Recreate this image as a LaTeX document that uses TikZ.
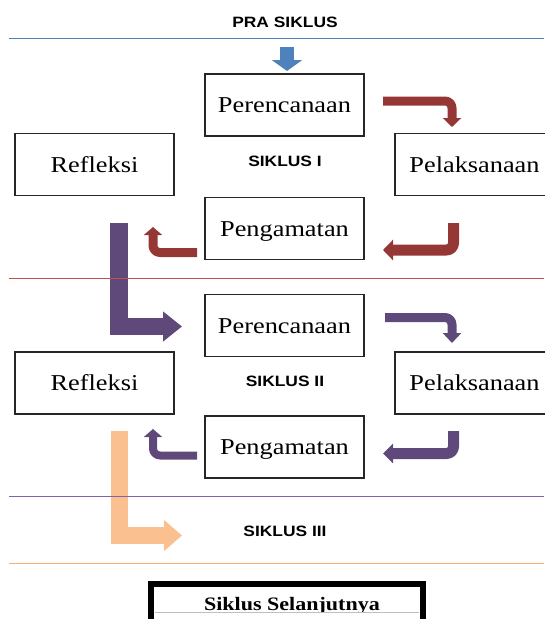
\documentclass[tikz,border=0pt]{standalone}
\usepackage{fontspec}
\setmainfont{Liberation Serif}[FakeStretch=1.16]
\newfontfamily\lblfont{Liberation Sans}[FakeStretch=1.16]
\usetikzlibrary{arrows.meta}
\definecolor{blueA}{HTML}{4F81BD}
\definecolor{redA}{HTML}{953735}
\definecolor{purpleA}{HTML}{5F497A}
\definecolor{orangeA}{HTML}{FAC090}
\definecolor{redL}{HTML}{C0504D}
\definecolor{purpleL}{HTML}{8064A2}
\definecolor{orangeL}{HTML}{F7AE72}
\begin{document}
\begin{tikzpicture}[x=1pt,y=-1pt,
  box/.style={draw=black!85, line width=1.1pt, minimum width=159pt, minimum height=62pt,
    inner sep=0pt, text height=15pt, text depth=0pt, font=\fontsize{22.7}{24}\selectfont},
  lbl/.style={font=\lblfont\bfseries\fontsize{15}{17}\selectfont, text height=11pt, text depth=0pt, inner sep=0pt},
  sepline/.style={line width=1pt},
  curvearr/.style={line join=round, rounded corners=7pt},
  ellarr/.style={line join=miter},
]
\useasboundingbox (0,0) rectangle (544,619);

% coordinates for arrows
\coordinate (b1) at (287,47); \coordinate (b2) at (287,71);
\coordinate (r1s) at (383,101);   \coordinate (r1e) at (452,127);
\coordinate (r2s) at (453.5,223); \coordinate (r2e) at (383,250);
\coordinate (r3s) at (197,252.5); \coordinate (r3e) at (153,227);
\coordinate (p1s) at (385,317.5); \coordinate (p1e) at (452,343);
\coordinate (p2s) at (453.5,431); \coordinate (p2e) at (383,453.5);
\coordinate (p3s) at (197,455.5); \coordinate (p3e) at (153,429);
\coordinate (lps) at (119,223);   \coordinate (lpe) at (182,326.5);
\coordinate (los) at (119.5,431); \coordinate (loe) at (182,535.5);

% arrows
\draw[blueA, line width=14pt, -{Triangle[width=30pt,length=11pt]}] (b1) -- (b2);
\draw[redA, line width=9pt, curvearr, -{Triangle[width=18pt,length=9pt]}] (r1s) -| (r1e);
\draw[redA, line width=11pt, curvearr, -{Triangle[width=20pt,length=10pt]}] (r2s) |- (r2e);
\draw[redA, line width=9pt, curvearr, -{Triangle[width=18pt,length=8pt]}] (r3s) -| (r3e);
\draw[purpleA, line width=9pt, curvearr, -{Triangle[width=18pt,length=10pt]}] (p1s) -| (p1e);
\draw[purpleA, line width=11pt, curvearr, -{Triangle[width=19pt,length=10pt]}] (p2s) |- (p2e);
\draw[purpleA, line width=8pt, curvearr, -{Triangle[width=18pt,length=8pt]}] (p3s) -| (p3e);
\draw[purpleA, line width=17.5pt, ellarr, -{Triangle[width=29pt,length=19pt]}] (lps) |- (lpe);
\draw[orangeA, line width=16.5pt, ellarr, -{Triangle[width=30pt,length=18pt]}] (los) |- (loe);

% separator lines
\coordinate (l1a) at (9,38);  \coordinate (l1b) at (544,38);
\coordinate (l2a) at (9,278); \coordinate (l2b) at (544,278);
\coordinate (l3a) at (9,496); \coordinate (l3b) at (544,496);
\coordinate (l4a) at (9,563); \coordinate (l4b) at (544,563);
\draw[sepline, blueA] (l1a) -- (l1b);
\draw[sepline, redL] (l2a) -- (l2b);
\draw[sepline, purpleL] (l3a) -- (l3b);
\draw[sepline, orangeL] (l4a) -- (l4b);

% labels
\node[lbl] (pra) at (285,22) {PRA SIKLUS};
\node[lbl] (s1) at (285,160.5) {SIKLUS I};
\node[lbl] (s2) at (285,381) {SIKLUS II};
\node[lbl] (s3) at (285,531) {SIKLUS III};

% cycle I
\node[box] (per1) at (284.5,105) {Perencanaan};
\node[box] (ref1) at (94.5,164.5) {Refleksi};
\node[box] (pel1) at (474.5,164.5) {Pelaksanaan};
\node[box] (pen1) at (284.5,228.5) {Pengamatan};

% cycle II
\node[box] (per2) at (284.5,325.5) {Perencanaan};
\node[box] (ref2) at (94.5,383) {Refleksi};
\node[box] (pel2) at (474.5,383) {Pelaksanaan};
\node[box] (pen2) at (284.5,447) {Pengamatan};

% next cycle
\node[draw=black, line width=6pt, minimum width=272pt, minimum height=75pt, inner sep=0pt] (next) at (287,621.5) {};
\node[anchor=base, inner sep=0pt, font=\bfseries\fontsize{19}{21}\selectfont] (nexttxt) at (292,610) {Siklus Selanjutnya};
\fill[white] (155,612) rectangle (419,620);
\draw[black!25, line width=0.6pt] (155,612.3) -- (419,612.3);
\end{tikzpicture}
\end{document}
